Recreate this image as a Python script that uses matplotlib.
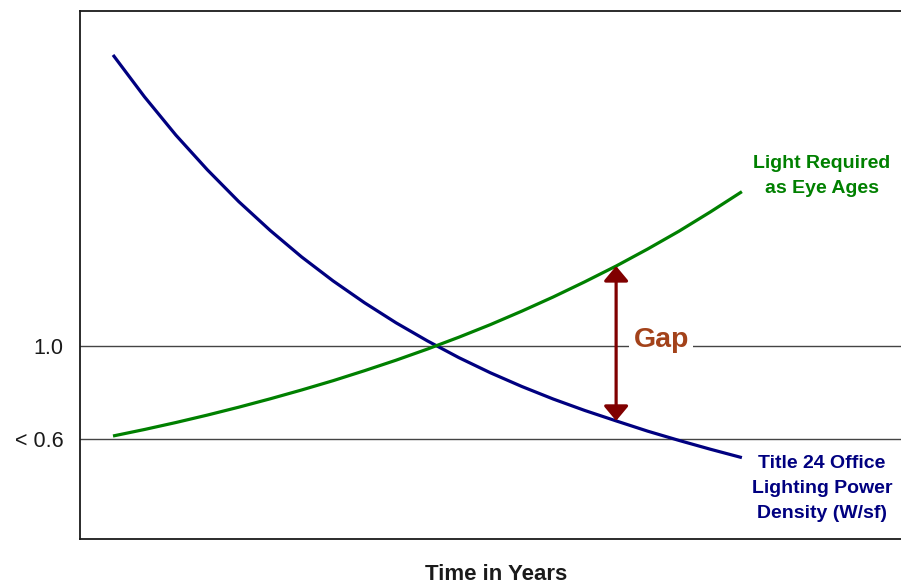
import numpy as np
import matplotlib
matplotlib.use("Agg")
import matplotlib.pyplot as plt

plt.rcParams["font.family"] = ["Liberation Sans", "DejaVu Sans"]

NAVY = "#000080"; GREEN = "#008000"; MAROON = "#800000"; RUST = "#A3421A"; INK = "#1a1a1a"

# years along the horizontal axis
years = list(range(21))
# Title 24 office lighting power density (relative to today)
lpd = [2.252, 2.072, 1.907, 1.758, 1.621, 1.497, 1.383, 1.280, 1.186, 1.100, 1.022,
       0.950, 0.885, 0.826, 0.772, 0.723, 0.678, 0.634, 0.594, 0.556, 0.520]
# light required as the eye ages (relative)
need = [0.613, 0.641, 0.671, 0.703, 0.737, 0.773, 0.811, 0.851, 0.894, 0.939, 0.987,
        1.038, 1.092, 1.150, 1.211, 1.276, 1.344, 1.417, 1.494, 1.577, 1.664]
ref_levels = [1.0, 0.6]
ref_labels = ["1.0", "< 0.6"]
gap_year = 16

fig = plt.figure(figsize=(9.01, 5.84), dpi=100)
ax = fig.add_axes([80/901, 45/584, 1 - 80/901, 528/584])
ax.set_xlim(-1.05, 25.06)
ax.set_ylim(0.17, 2.441)

for s in ["left", "top", "bottom"]:
    ax.spines[s].set_color(INK); ax.spines[s].set_linewidth(1.3)
ax.spines["right"].set_visible(False)

for lv in ref_levels:
    ax.axhline(lv, color="#444444", lw=1.0, zorder=1)

ax.plot(years, lpd, color=NAVY, lw=2.3, solid_capstyle="butt", zorder=3)
ax.plot(years, need, color=GREEN, lw=2.3, solid_capstyle="butt", zorder=3)

ax.set_xticks([])
ax.set_yticks(ref_levels)
ax.set_yticklabels(ref_labels)
ax.tick_params(axis="y", length=0, pad=12, labelsize=15.5, labelcolor=INK)

# the gap between what the eye needs and what code allows
ax.annotate("", xy=(gap_year, need[gap_year]), xytext=(gap_year, lpd[gap_year]),
            arrowprops=dict(arrowstyle="<|-|>,head_length=0.6,head_width=0.5",
                            mutation_scale=15, color=MAROON, lw=2.3,
                            shrinkA=0, shrinkB=0), zorder=4)
ax.text(gap_year + 0.55, 1.025, "Gap", color=RUST, fontsize=20.5, weight="bold",
        ha="left", va="center", zorder=2,
        bbox=dict(facecolor="white", edgecolor="none", pad=3))

ax.text(22.55, 1.733, "Light Required\nas Eye Ages", color=GREEN, fontsize=14,
        weight="bold", ha="center", va="center", linespacing=1.62)
ax.text(22.55, 0.389, "Title 24 Office\nLighting Power\nDensity (W/sf)", color=NAVY,
        fontsize=14, weight="bold", ha="center", va="center", linespacing=1.62)

fig.text(496/901, 1 - 575/584, "Time in Years", fontsize=16, weight="bold",
         color=INK, ha="center", va="center")

fig.savefig("out.png", dpi=100)
